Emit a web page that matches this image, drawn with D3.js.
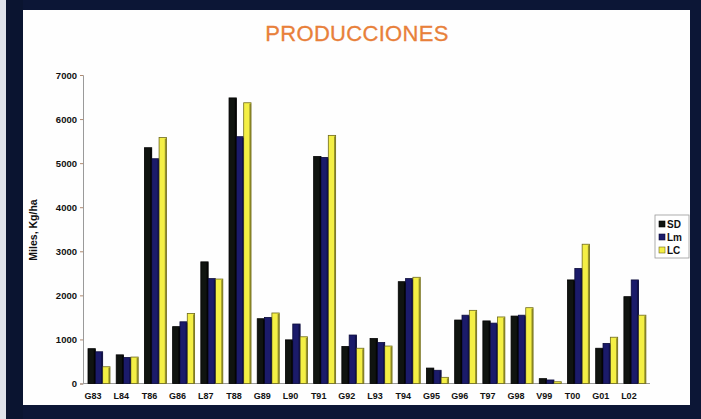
<!DOCTYPE html>
<html>
<head>
<meta charset="utf-8">
<script src="https://cdn.jsdelivr.net/npm/d3@7"></script>
<style>
  html, body { margin: 0; padding: 0; background: #0c1636; }
  svg { display: block; }
  text { font-family: "Liberation Sans", Arial, sans-serif; }
</style>
</head>
<body>
<svg id="chart" width="701" height="419"></svg>
<script>
// Campaign labels along the x axis
const categories = ["G83","L84","T86","G86","L87","T88","G89","L90","T91","G92",
                    "L93","T94","G95","G96","T97","G98","V99","T00","G01","L02"];
const seriesNames = ["SD", "Lm", "LC"];
// Production per campaign (Kg/ha)
const sdValues = [790, 650, 5350, 1290, 2760, 6480, 1470, 990, 5150, 840,
                  1020, 2310, 350, 1440, 1420, 1530, 110, 2350, 800, 1970];
const lmValues = [720, 590, 5100, 1400, 2380, 5600, 1500, 1350, 5130, 1100,
                  930, 2380, 300, 1550, 1370, 1550, 80, 2610, 910, 2350];
const lcValues = [380, 600, 5580, 1590, 2370, 6370, 1600, 1060, 5630, 800,
                  850, 2410, 140, 1660, 1510, 1720, 40, 3160, 1050, 1550];
const yTicks = [0, 1000, 2000, 3000, 4000, 5000, 6000, 7000];

const colors = { SD: "#101410", Lm: "#1b1b6a", LC: "#f4ef45" };
const edges  = { SD: "#000000", Lm: "#0b0b3a", LC: "#6e6a1c" };

const svg = d3.select("#chart");
const W = 701, H = 419;

// outer frame and panel
svg.append("rect").attr("width", W).attr("height", H).attr("fill", "#0c1636");
svg.append("rect").attr("x", 0).attr("y", 0).attr("width", 6).attr("height", H).attr("fill", "#dfe2ea");
svg.append("rect").attr("x", 6).attr("y", 0).attr("width", 17).attr("height", H).attr("fill", "#0a1430");
svg.append("rect").attr("x", 23).attr("y", 10).attr("width", 667).attr("height", 395)
  .attr("fill", "#fefefe");

// title
svg.append("text").attr("x", 357).attr("y", 41).attr("text-anchor", "middle")
  .attr("font-size", 22).attr("fill", "#e8803a").attr("stroke", "#e8803a").attr("stroke-width", 0.3)
  .attr("letter-spacing", 0.3)
  .text("PRODUCCIONES");

const y = d3.scaleLinear().domain([0, 7000]).range([383.5, 75]);
const x0 = d3.scaleBand().domain(categories).range([84.9, 649]).paddingInner(0.22).paddingOuter(0.11);
const x1 = d3.scaleBand().domain(seriesNames).range([0, x0.bandwidth()]).padding(0);

// y axis
const yAxis = svg.append("g").attr("transform", "translate(83,0)")
  .call(d3.axisLeft(y).tickValues(yTicks).tickSize(3).tickPadding(3).tickFormat(d3.format("d")));
yAxis.select(".domain").attr("stroke", "#9a9a9a").attr("stroke-width", 1);
yAxis.selectAll(".tick line").attr("stroke", "#b08a70");
yAxis.selectAll("text").attr("font-size", 9.5).attr("font-weight", "bold").attr("fill", "#111");

// floor line
svg.append("line").attr("x1", 83).attr("x2", 650).attr("y1", y(0)).attr("y2", y(0))
  .attr("stroke", "#9a9a9a");

// y axis title
svg.append("text").attr("transform", "translate(37,230) rotate(-90)")
  .attr("text-anchor", "middle").attr("font-size", 10.5).attr("font-weight", "bold")
  .attr("fill", "#111").text("Miles, Kg/ha");

// bars
const rows = categories.map((c, i) => ({
  cat: c,
  vals: [
    { key: "SD", v: sdValues[i] },
    { key: "Lm", v: lmValues[i] },
    { key: "LC", v: lcValues[i] }
  ]
}));

const groups = svg.append("g").selectAll("g").data(rows).join("g")
  .attr("transform", d => `translate(${x0(d.cat)},0)`);

groups.selectAll("rect.bar").data(d => d.vals).join("rect")
  .attr("class", "bar")
  .attr("x", d => x1(d.key))
  .attr("y", d => y(d.v))
  .attr("width", x1.bandwidth())
  .attr("height", d => y(0) - y(d.v))
  .attr("fill", d => colors[d.key])
  .attr("stroke", d => edges[d.key])
  .attr("stroke-width", 0.8);

// darker right side strip on each bar for depth
groups.selectAll("rect.side").data(d => d.vals).join("rect")
  .attr("class", "side")
  .attr("x", d => x1(d.key) + x1.bandwidth() - 1.6)
  .attr("y", d => y(d.v) + 1)
  .attr("width", 1.6)
  .attr("height", d => Math.max(0, y(0) - y(d.v) - 1))
  .attr("fill", d => edges[d.key])
  .attr("opacity", 0.7);

// x labels
svg.append("g").selectAll("text").data(categories).join("text")
  .attr("x", d => x0(d) + x0.bandwidth() / 2 - 6)
  .attr("y", 399)
  .attr("text-anchor", "middle")
  .attr("font-size", 9).attr("font-weight", "bold").attr("fill", "#111")
  .text(d => d);

// legend
const lg = svg.append("g").attr("transform", "translate(655,215)");
lg.append("rect").attr("width", 34).attr("height", 43)
  .attr("fill", "#fff").attr("stroke", "#999").attr("stroke-width", 0.8);
seriesNames.forEach((s, i) => {
  lg.append("rect").attr("x", 4).attr("y", 6 + i * 13).attr("width", 6).attr("height", 6)
    .attr("fill", colors[s]).attr("stroke", edges[s]).attr("stroke-width", 0.6);
  lg.append("text").attr("x", 12).attr("y", 12.5 + i * 13)
    .attr("font-size", 10).attr("font-weight", "bold").attr("fill", "#111").text(s);
});
</script>
</body>
</html>
